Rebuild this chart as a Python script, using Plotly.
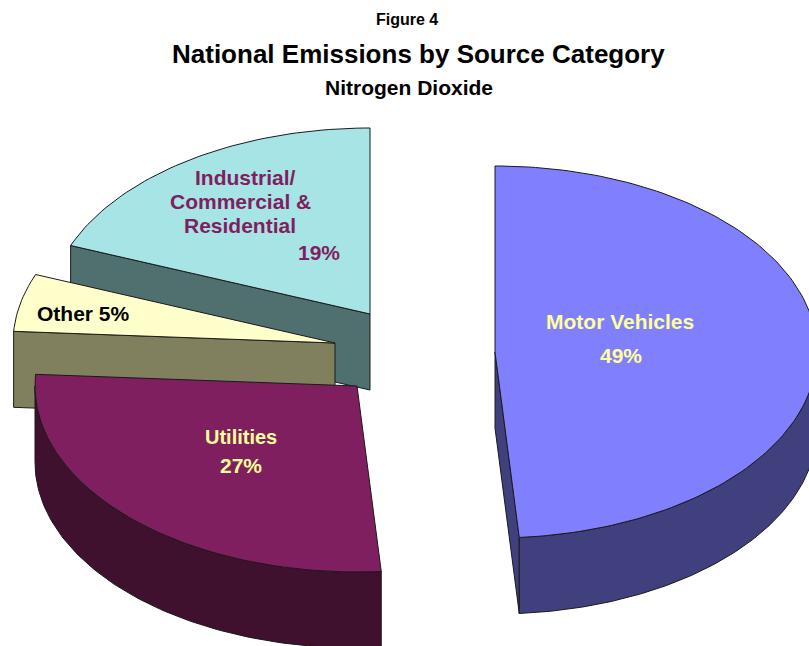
import math
import plotly.graph_objects as go

# ---- data ----
categories = ["Motor Vehicles", "Utilities", "Other", "Industrial/Commercial & Residential"]
shares = [48.8, 27.2, 5, 19]   # labels show whole percents

# ---- styles / placement of each exploded slice (pixel-space axes) ----
apex_x = [495, 357, 335, 370]
apex_y = [352, 386, 343, 314]
top_colors = ["#8080FF", "#801F5F", "#FFFFCC", "#A6E4E6"]
side_colors = ["#40407F", "#40102F", "#80805F", "#50706F"]
draw_order = [3, 2, 1, 0]
RX, RY, DEPTH = 322, 186, 76
W, H = 809, 646

fig = go.Figure()


def point(cx, cy, turn, drop=0):
    a = 2 * math.pi * turn
    return cx + RX * math.sin(a), cy - RY * math.cos(a) + drop


def add_poly(pts, color):
    fig.add_trace(go.Scatter(
        x=[p[0] for p in pts] + [pts[0][0]],
        y=[p[1] for p in pts] + [pts[0][1]],
        mode="lines", fill="toself", fillcolor=color,
        line=dict(color="#1a1a1a", width=1),
        hoverinfo="skip", showlegend=False))


total = sum(shares)
starts = []
acc = 0
for s in shares:
    starts.append(acc / total)
    acc += s

for i in draw_order:
    cx, cy = apex_x[i], apex_y[i]
    t0, t1 = starts[i], starts[i] + shares[i] / total
    n = max(8, int(shares[i] * 3))
    arc = [t0 + (t1 - t0) * k / n for k in range(n + 1)]

    # straight cut faces, extruded downward; only those turned toward the viewer
    faces = []
    if t0 > 0.5:
        faces.append(t0)
    if t1 < 0.5:
        faces.append(t1)
    for t in faces:
        e = point(cx, cy, t)
        add_poly([(cx, cy), e, (e[0], e[1] + DEPTH), (cx, cy + DEPTH)], side_colors[i])

    # curved rim: only the front half of the ellipse is visible
    lo, hi = max(t0, 0.25), min(t1, 0.75)
    if hi > lo:
        front = [lo + (hi - lo) * k / n for k in range(n + 1)]
        upper = [point(cx, cy, t) for t in front]
        lower = [point(cx, cy, t, DEPTH) for t in reversed(front)]
        add_poly(upper + lower, side_colors[i])

    # top face
    add_poly([(cx, cy)] + [point(cx, cy, t) for t in arc], top_colors[i])

FONT = "Liberation Sans, Arial, sans-serif"
labels = [
    (407, 19, "Figure 4", 16, "#000000"),
    (418, 54, "National Emissions by Source Category", 26, "#000000"),
    (409, 87, "Nitrogen Dioxide", 21, "#000000"),
    (620, 321, "Motor Vehicles", 21, "#FFFF99"),
    (621, 355, f"{round(shares[0])}%", 21, "#FFFF99"),
    (241, 437, "Utilities", 20, "#FFFF99"),
    (241, 465, f"{round(shares[1])}%", 21, "#FFFF99"),
    (83, 313, f"Other {round(shares[2])}%", 21, "#000000"),
    (245, 177, "Industrial/", 21, "#801F5F"),
    (240, 201, "Commercial &", 21, "#801F5F"),
    (240, 225, "Residential", 21, "#801F5F"),
    (319, 252, f"{round(shares[3])}%", 21, "#801F5F"),
]
for x, y, text, size, color in labels:
    fig.add_annotation(x=x, y=y, text=f"<b>{text}</b>", showarrow=False,
                       xanchor="center", yanchor="middle",
                       font=dict(family=FONT, size=size, color=color))

fig.update_layout(
    width=W, height=H, margin=dict(l=0, r=0, t=0, b=0),
    paper_bgcolor="white", plot_bgcolor="white", showlegend=False,
    xaxis=dict(range=[0, W], visible=False, fixedrange=True),
    yaxis=dict(range=[H, 0], visible=False, fixedrange=True),
)
fig.write_html("out.html", config={"displayModeBar": False},
               post_script="document.body.style.margin='0';document.body.style.overflow='hidden';")
